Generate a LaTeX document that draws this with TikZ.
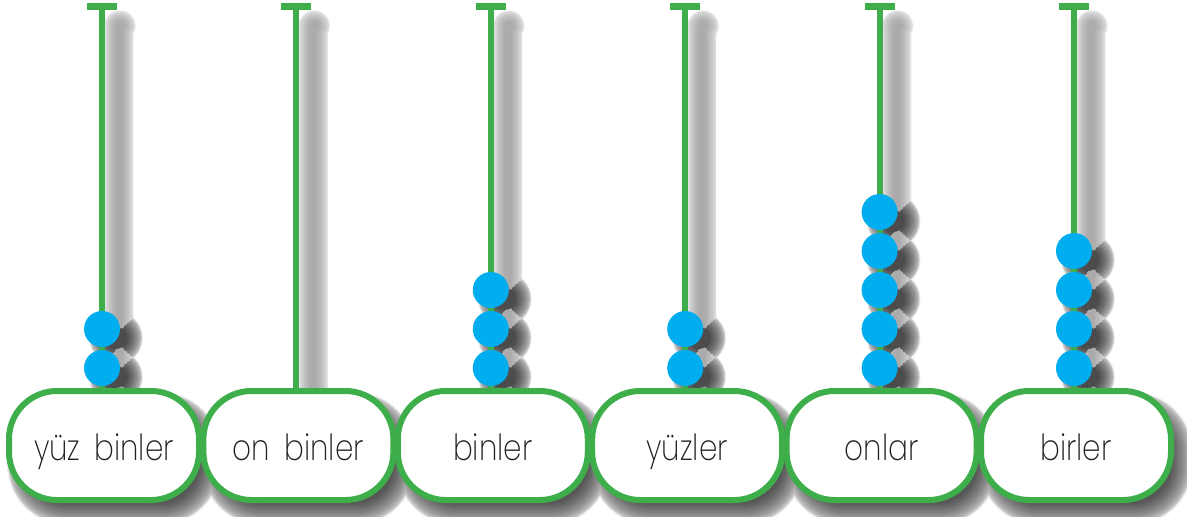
\documentclass[tikz,border=0pt]{standalone}
\usepackage{fontspec}
\setmainfont{Poppins}[UprightFont=* ExtraLight, FakeStretch=0.82, WordSpace=1.7]
\definecolor{rodgreen}{RGB}{61,174,73}
\definecolor{beadblue}{RGB}{0,174,239}
\definecolor{txt}{RGB}{35,31,32}
\tikzset{
  rodline/.style={draw=rodgreen, line width=6pt},
  capline/.style={draw=rodgreen, line width=7pt},
  bead/.style={circle, fill=beadblue, minimum size=36pt, inner sep=0pt},
  labelbox/.style={draw=rodgreen, line width=6pt, fill=white, rounded corners=48pt,
    minimum width=190pt, minimum height=109pt, inner sep=0pt, text height=29pt, text depth=0pt,
    text=txt, font=\fontsize{36}{36}\selectfont},
  shadowlayer/.style={fill=black!#1, draw=none},
}
\begin{document}
\begin{tikzpicture}[x=1pt,y=-1pt]
\useasboundingbox (0,0) rectangle (1187,517);
\fill[white] (0,0) rectangle (1187,517);
% soft shadows: opaque grey layers, lightest (largest) first
\foreach \L in {0,1,...,16}{
  \pgfmathsetmacro{\tt}{\L/16}
  \pgfmathsetmacro{\ts}{sqrt(\tt)}
  \pgfmathsetmacro{\db}{12-22*\tt}
  \pgfmathsetmacro{\kb}{6+60*\ts}
  \pgfmathsetmacro{\wr}{15-12*\tt}
  \pgfmathsetmacro{\kr}{3+30*\ts}
  \pgfmathsetmacro{\rb}{27-16*\tt}
  \pgfmathsetmacro{\kd}{6+64*\ts}
  \pgfmathsetmacro{\rc}{48+\db}
  \foreach \i/\n in {0/2,1/0,2/3,3/2,4/5,5/4}{
    \pgfmathsetmacro{\xx}{102+194.4*\i}
    \pgfmathsetmacro{\xa}{\xx+2-95-\db+10}
    \pgfmathsetmacro{\xb}{\xx+2+95+\db+10}
    \pgfmathsetmacro{\ya}{391-\db+13}
    \pgfmathsetmacro{\yb}{500+\db+13}
    \path[shadowlayer=\kb, rounded corners=\rc pt] (\xa,\ya) rectangle (\xb,\yb);
    \pgfmathsetmacro{\xa}{\xx+17-\wr}
    \pgfmathsetmacro{\xb}{\xx+17+\wr}
    \pgfmathsetmacro{\ya}{34-\wr}
    \path[shadowlayer=\kr] (\xa,\ya) rectangle (\xb,388);
    \path[shadowlayer=\kr] (\xx+18,26) circle[radius=\wr+1];
    \ifnum\n>0
    \foreach \k in {1,...,\n}{
      \pgfmathsetmacro{\yy}{368-39*\k+39+9}
      \path[shadowlayer=\kd] (\xx+14,\yy) circle[radius=\rb];
    }
    \fi
  }
}
% boxes, rods, beads
\foreach \i/\n/\t in {0/2/yüz binler,1/0/on binler,2/3/binler,3/2/yüzler,4/5/onlar,5/4/birler}{
  \pgfmathsetmacro{\xx}{102+194.4*\i}
  \coordinate (top\i) at (\xx,3);
  \coordinate (capl\i) at (\xx-15,6.5);
  \coordinate (capr\i) at (\xx+15,6.5);
  \coordinate (foot\i) at (\xx,390);
  \draw[rodline] (top\i) -- (foot\i);
  \draw[capline] (capl\i) -- (capr\i);
  \ifnum\n>0
  \foreach \k in {1,...,\n}{
    \node[bead] (bead\i-\k) at (\xx,368-39*\k+39) {};
  }
  \fi
  \node[labelbox] (box\i) at (\xx+2,445.5) {\t};
}
\end{tikzpicture}
\end{document}
